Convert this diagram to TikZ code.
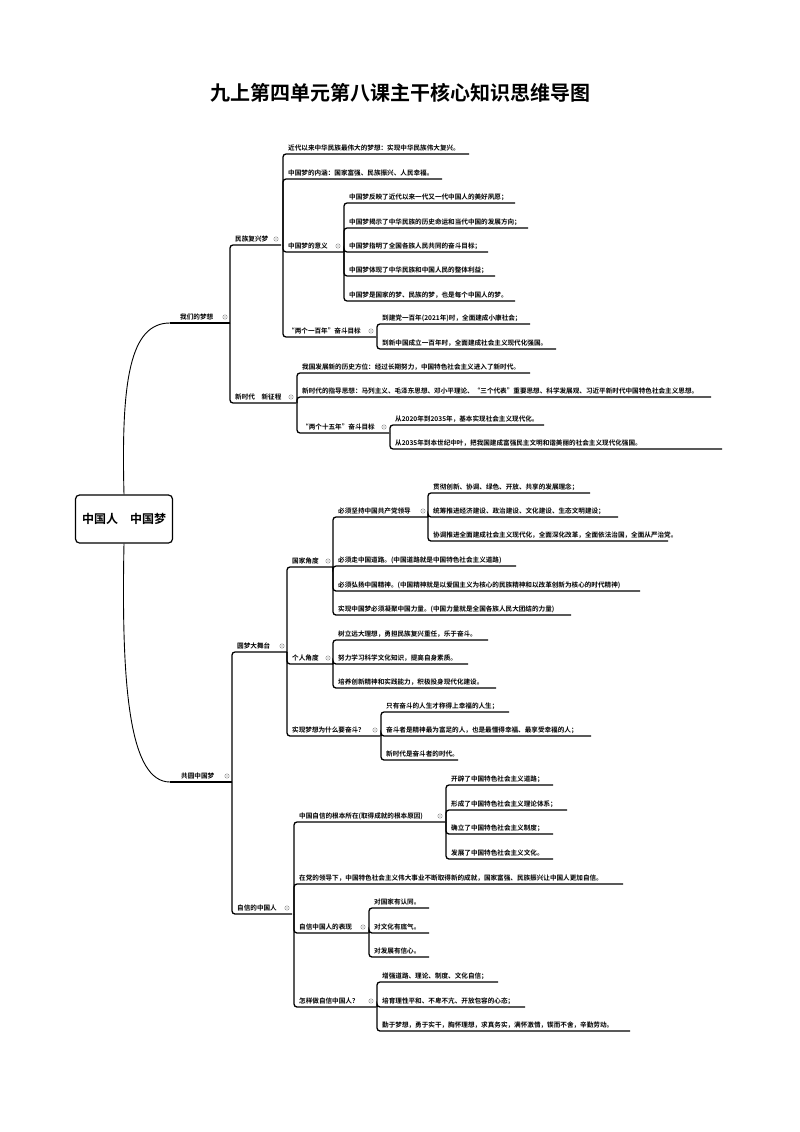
\documentclass[tikz,border=0pt]{standalone}
\usepackage{fontspec}
\setmainfont{Noto Sans CJK SC}[BoldFont={* Bold}]
\tikzset{
  ul/.style={line width=1.3pt,black},
  txt/.style={inner sep=0pt,font=\bfseries\fontsize{6.6}{7}\selectfont},
  foldmark/.style={draw=gray,line width=0.4pt},
}
\newcommand\br[6]{%
  \draw[ul,rounded corners=3pt] (#2,#1) -- (#2,#3) -- (#4,#3);
  \node[txt,anchor=base west] (#5) at (#2+5,#3-3.5) {#6};}
\newcommand\fold[2]{\draw[foldmark] (#1-5,#2-6) circle (2.2pt); \fill[gray] (#1-5,#2-6) circle (0.6pt);}
\begin{document}
\begin{tikzpicture}[x=1pt,y=-1pt]
\useasboundingbox (0,0) rectangle (800,1132);
\fill[white] (0,0) rectangle (800,1132);
\node[font=\bfseries\fontsize{20}{22}\selectfont] (title) at (400,93) {九上第四单元第八课主干核心知识思维导图};
% root
\node[draw,line width=1.2pt,rounded corners=4pt,minimum width=97pt,minimum height=48pt,font=\bfseries\fontsize{12}{13}\selectfont] (root) at (124,519) {中国人\quad 中国梦};
\draw[line width=0.9pt] (root.north) .. controls (121,380) and (130,323) .. (170,323);
\draw[line width=0.9pt] (root.south) .. controls (121,690) and (130,782) .. (170,782);
% level 1
\draw[ul] (170,323) -- (230,323); \node[txt,anchor=base west] (wm) at (180,319.5) {我们的梦想}; \fold{230}{323}
\draw[ul] (170,782) -- (232,782); \node[txt,anchor=base west] (gy) at (181,778.5) {共圆中国梦}; \fold{232}{782}
% 我们的梦想
\br{323}{230}{245}{281}{mz}{民族复兴梦}\fold{281}{245}
\br{323}{230}{403}{296}{xs}{新时代\quad 新征程}\fold{296}{403}
% 民族复兴梦
\br{245}{283}{154}{469}{a1}{近代以来中华民族最伟大的梦想：实现中华民族伟大复兴。}
\br{245}{283}{179}{442}{a2}{中国梦的内涵：国家富强、民族振兴、人民幸福。}
\br{245}{283}{252}{343}{a3}{中国梦的意义}\fold{343}{252}
\br{245}{283}{337}{376}{a4}{“两个一百年”奋斗目标}\fold{376}{337}
\br{252}{344}{203}{515}{b1}{中国梦反映了近代以来一代又一代中国人的美好夙愿；}
\br{252}{344}{228}{528}{b2}{中国梦揭示了中华民族的历史命运和当代中国的发展方向；}
\br{252}{344}{252}{488}{b3}{中国梦指明了全国各族人民共同的奋斗目标；}
\br{252}{344}{276}{495}{b4}{中国梦体现了中华民族和中国人民的整体利益；}
\br{252}{344}{301}{515}{b5}{中国梦是国家的梦、民族的梦，也是每个中国人的梦。}
\br{337}{377}{324}{530}{c1}{到建党一百年(2021年)时，全面建成小康社会；}
\br{337}{377}{349}{556}{c2}{到新中国成立一百年时，全面建成社会主义现代化强国。}
% 新时代 新征程
\br{403}{297}{373}{530}{d1}{我国发展新的历史方位：经过长期努力，中国特色社会主义进入了新时代。}
\br{403}{297}{397}{711}{d2}{新时代的指导思想：马列主义、毛泽东思想、邓小平理论、“三个代表”重要思想、科学发展观、习近平新时代中国特色社会主义思想。}
\br{403}{297}{433}{389}{d3}{“两个十五年”奋斗目标}\fold{389}{433}
\br{433}{390}{425}{544}{e1}{从2020年到2035年，基本实现社会主义现代化。}
\br{433}{390}{449}{722}{e2}{从2035年到本世纪中叶，把我国建成富强民主文明和谐美丽的社会主义现代化强国。}
% 共圆中国梦
\br{782}{232}{652}{287}{f1}{圆梦大舞台}\fold{287}{652}
\br{782}{232}{914}{292}{f2}{自信的中国人}\fold{292}{914}
% 圆梦大舞台
\br{652}{287}{567}{333}{g1}{国家角度}\fold{333}{567}
\br{652}{287}{664}{333}{g2}{个人角度}\fold{333}{664}
\br{652}{287}{736}{380}{g3}{实现梦想为什么要奋斗？}\fold{380}{736}
\br{567}{333}{517}{428}{h1}{必须坚持中国共产党领导}\fold{428}{517}
\br{567}{333}{566}{516}{h2}{必须走中国道路。(中国道路就是中国特色社会主义道路)}
\br{567}{333}{591}{640}{h3}{必须弘扬中国精神。(中国精神就是以爱国主义为核心的民族精神和以改革创新为核心的时代精神)}
\br{567}{333}{615}{571}{h4}{实现中国梦必须凝聚中国力量。(中国力量就是全国各族人民大团结的力量)}
\br{517}{428}{493}{590}{i1}{贯彻创新、协调、绿色、开放、共享的发展理念；}
\br{517}{428}{517}{618}{i2}{统筹推进经济建设、政治建设、文化建设、生态文明建设；}
\br{517}{428}{541}{668}{i3}{协调推进全面建成社会主义现代化，全面深化改革，全面依法治国，全面从严治党。}
\br{664}{333}{640}{488}{j1}{树立远大理想，勇担民族复兴重任，乐于奋斗。}
\br{664}{333}{664}{468}{j2}{努力学习科学文化知识，提高自身素质。}
\br{664}{333}{688}{496}{j3}{培养创新精神和实践能力，积极投身现代化建设。}
\br{736}{381}{712}{509}{k1}{只有奋斗的人生才称得上幸福的人生；}
\br{736}{381}{736}{591}{k2}{奋斗者是精神最为富足的人，也是最懂得幸福、最享受幸福的人；}
\br{736}{381}{760}{458}{k3}{新时代是奋斗者的时代。}
% 自信的中国人
\br{914}{294}{822}{445}{l1}{中国自信的根本所在(取得成就的根本原因)}\fold{445}{822}
\br{914}{294}{884}{623}{l2}{在党的领导下，中国特色社会主义伟大事业不断取得新的成就，国家富强、民族振兴让中国人更加自信。}
\br{914}{294}{933}{368}{l3}{自信中国人的表现}\fold{368}{933}
\br{914}{294}{1007}{376}{l4}{怎样做自信中国人？}\fold{376}{1007}
\br{822}{446}{785}{553}{m1}{开辟了中国特色社会主义道路；}
\br{822}{446}{810}{567}{m2}{形成了中国特色社会主义理论体系；}
\br{822}{446}{834}{553}{m3}{确立了中国特色社会主义制度；}
\br{822}{446}{859}{553}{m4}{发展了中国特色社会主义文化。}
\br{933}{369}{908}{429}{n1}{对国家有认同。}
\br{933}{369}{933}{429}{n2}{对文化有底气。}
\br{933}{369}{957}{429}{n3}{对发展有信心。}
\br{1007}{377}{982}{498}{o1}{增强道路、理论、制度、文化自信；}
\br{1007}{377}{1007}{525}{o2}{培育理性平和、不卑不亢、开放包容的心态；}
\br{1007}{377}{1031}{630}{o3}{勤于梦想，勇于实干，胸怀理想，求真务实，满怀激情，锲而不舍，辛勤劳动。}
\end{tikzpicture}
\end{document}
